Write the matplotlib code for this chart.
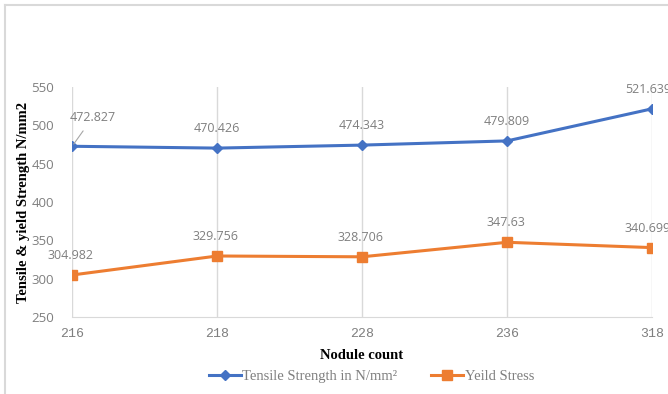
import matplotlib.pyplot as plt

nodules = ['216', '218', '228', '236', '318']
tensile = [472.827, 470.426, 474.343, 479.809, 521.639]
yield_stress = [304.982, 329.756, 328.706, 347.63, 340.699]

blue = '#4472C4'
orange = '#ED7D31'
grey = '#7F7F7F'
grid = '#D9D9D9'

fig = plt.figure(figsize=(6.68, 3.94), dpi=100)
ax = fig.add_axes([0.108, 0.195, 0.868, 0.584])

x = list(range(len(nodules)))
ax.plot(x, tensile, color=blue, lw=2.2, marker='D', ms=5, label='Tensile Strength in N/mm²', zorder=3)
ax.plot(x, yield_stress, color=orange, lw=2.2, marker='s', ms=7, label='Yeild Stress', zorder=3)

ax.set_xlim(0, len(nodules) - 1)
ax.set_ylim(250, 550)
ax.set_yticks(range(250, 551, 50))
ax.set_xticks(x)
ax.set_xticklabels(nodules)
ax.tick_params(axis='x', length=0, pad=8, labelsize=9.5, labelcolor=grey,
               labelfontfamily='Liberation Mono')
ax.tick_params(axis='y', length=0, pad=13, labelsize=9.5, labelcolor=grey,
               labelfontfamily='Open Sans')

for s in ['top', 'right', 'left']:
    ax.spines[s].set_visible(False)
ax.spines['bottom'].set_color(grid)
ax.xaxis.grid(True, color=grid, lw=1)
ax.set_axisbelow(True)

lab = dict(fontfamily='Open Sans', fontsize=9, color=grey, ha='center', va='center',
           textcoords='offset points', annotation_clip=False)
for i, v in enumerate(tensile):
    if i == 0:
        ax.annotate(f'{v:g}', (i, v), xytext=(15, 21),
                    arrowprops=dict(arrowstyle='-', color='#A6A6A6', lw=0.8, shrinkA=4, shrinkB=2), **lab)
    elif i == len(tensile) - 1:
        ax.annotate(f'{v:g}', (i, v), xytext=(-3, 14), **lab)
    else:
        ax.annotate(f'{v:g}', (i, v), xytext=(0, 14), **lab)
for i, v in enumerate(yield_stress):
    if i == len(yield_stress) - 1:
        ax.annotate(f'{v:g}', (i, v), xytext=(-3, 14), **lab)
    else:
        ax.annotate(f'{v:g}', (i, v), xytext=(-1, 14), **lab)

ax.set_xlabel('Nodule count', fontfamily='Liberation Serif', fontweight='bold', fontsize=10.5, labelpad=6)
ax.set_ylabel('Tensile & yield Strength N/mm2', fontfamily='Liberation Serif', fontweight='bold', fontsize=10.5, labelpad=1)

leg = fig.legend(loc='center', bbox_to_anchor=(0.556, 0.045), ncol=2, frameon=False,
                 prop={'family': 'Liberation Serif', 'size': 10.5}, handlelength=2.2, columnspacing=2.3, handletextpad=0.1)
for t in leg.get_texts():
    t.set_color(grey)

# chart area border
fig.add_artist(plt.Line2D([0.0075, 0.0075], [0, 0.987], color=grid, lw=1.5, transform=fig.transFigure))
fig.add_artist(plt.Line2D([0.0075, 1], [0.987, 0.987], color=grid, lw=1.5, transform=fig.transFigure))

fig.savefig('out.png', dpi=100)
